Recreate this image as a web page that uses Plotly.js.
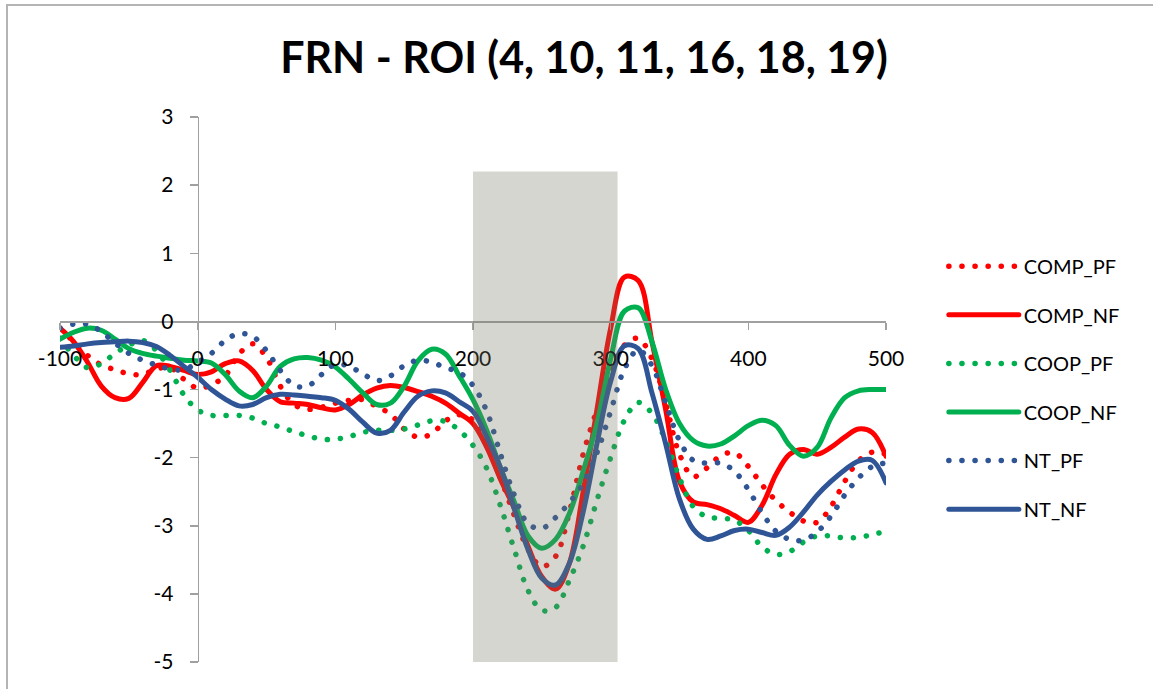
<!DOCTYPE html>
<html>
<head>
<meta charset="utf-8">
<script src="https://cdn.plot.ly/plotly-3.0.1.min.js"></script>
<style>
html,body{margin:0;padding:0;background:#fff;overflow:hidden;}
#wrap{position:relative;width:1153px;height:689px;}
#chart{width:1153px;height:689px;}
#frame{position:absolute;left:6px;top:4px;width:1160px;height:720px;border:2px solid #b4b4b4;box-sizing:border-box;pointer-events:none;}
.scatterlayer path.js-line, .legend path.js-line{stroke-linecap:round;}
</style>
</head>
<body>
<div id="wrap"><div id="chart"></div><div id="frame"></div></div>
<script>
// Time in ms
const time = [-100,-90,-80,-70,-60,-50,-40,-30,-20,-10,0,10,20,30,40,50,60,70,80,90,100,110,120,130,140,150,160,170,180,190,200,210,220,230,240,250,260,270,280,290,300,310,320,330,340,350,360,370,380,390,400,410,420,430,440,450,460,470,480,490,500];

const COMP_PF = [-0.1,-0.3,-0.5,-0.64,-0.71,-0.77,-0.78,-0.7,-0.68,-0.85,-0.98,-0.93,-0.8,-0.48,-0.33,-0.53,-0.95,-1.22,-1.29,-1.26,-1.2,-1.16,-1.15,-1.25,-1.36,-1.58,-1.7,-1.65,-1.46,-1.37,-1.45,-1.8,-2.3,-2.85,-3.35,-3.6,-3.45,-2.8,-1.95,-1.3,-0.75,-0.35,-0.25,-0.55,-1.2,-1.95,-2.28,-2.15,-1.97,-1.93,-2.13,-2.4,-2.63,-2.8,-2.93,-2.95,-2.72,-2.35,-2.05,-1.92,-1.95];

const COMP_NF = [-0.1,-0.3,-0.6,-0.95,-1.12,-1.13,-0.9,-0.65,-0.66,-0.72,-0.78,-0.74,-0.62,-0.58,-0.72,-1.0,-1.18,-1.2,-1.22,-1.27,-1.3,-1.22,-1.08,-0.98,-0.94,-0.97,-1.03,-1.1,-1.2,-1.35,-1.5,-1.85,-2.32,-2.75,-3.3,-3.75,-3.93,-3.55,-2.5,-1.3,-0.1,0.65,0.6,-0.3,-1.3,-2.35,-2.65,-2.69,-2.75,-2.85,-2.95,-2.7,-2.25,-1.95,-1.88,-1.95,-1.85,-1.7,-1.58,-1.63,-1.98];

const COOP_PF = [-0.25,-0.5,-0.68,-0.62,-0.47,-0.35,-0.28,-0.43,-0.72,-1.08,-1.3,-1.38,-1.38,-1.38,-1.42,-1.5,-1.55,-1.62,-1.68,-1.73,-1.73,-1.69,-1.63,-1.6,-1.6,-1.58,-1.52,-1.46,-1.47,-1.6,-1.82,-2.16,-2.71,-3.35,-3.95,-4.24,-4.2,-3.8,-3.3,-2.63,-2.0,-1.45,-1.19,-1.35,-1.75,-2.3,-2.72,-2.87,-2.89,-2.92,-3.07,-3.31,-3.42,-3.38,-3.24,-3.15,-3.15,-3.18,-3.17,-3.13,-3.08];

const COOP_NF = [-0.26,-0.16,-0.1,-0.13,-0.26,-0.4,-0.47,-0.51,-0.54,-0.57,-0.58,-0.61,-0.78,-1.02,-1.12,-0.95,-0.66,-0.55,-0.53,-0.57,-0.67,-0.85,-1.05,-1.22,-1.2,-0.95,-0.58,-0.41,-0.48,-0.8,-1.15,-1.6,-2.15,-2.65,-3.15,-3.33,-3.2,-2.82,-2.2,-1.5,-0.55,0.15,0.2,-0.3,-1.0,-1.5,-1.75,-1.83,-1.8,-1.68,-1.53,-1.45,-1.53,-1.82,-1.98,-1.85,-1.42,-1.12,-1.02,-1.0,-1.0];

const NT_PF = [-0.1,-0.04,-0.04,-0.15,-0.32,-0.47,-0.57,-0.64,-0.7,-0.71,-0.6,-0.47,-0.28,-0.18,-0.22,-0.43,-0.72,-0.94,-0.95,-0.78,-0.63,-0.66,-0.77,-0.87,-0.8,-0.65,-0.57,-0.6,-0.68,-0.75,-0.94,-1.32,-1.95,-2.55,-2.97,-3.04,-2.88,-2.66,-2.38,-1.93,-1.32,-0.7,-0.42,-0.65,-1.2,-1.75,-2.04,-2.08,-2.08,-2.2,-2.47,-2.81,-3.08,-3.2,-3.21,-3.09,-2.86,-2.55,-2.3,-2.13,-2.08];

const NT_NF = [-0.38,-0.36,-0.33,-0.31,-0.3,-0.29,-0.31,-0.37,-0.5,-0.66,-0.82,-1.0,-1.14,-1.24,-1.22,-1.12,-1.07,-1.08,-1.1,-1.12,-1.16,-1.29,-1.48,-1.64,-1.6,-1.33,-1.1,-1.02,-1.05,-1.18,-1.32,-1.7,-2.15,-2.75,-3.35,-3.77,-3.87,-3.55,-2.8,-1.8,-0.88,-0.36,-0.4,-1.05,-1.8,-2.61,-3.05,-3.2,-3.15,-3.07,-3.05,-3.1,-3.14,-3.02,-2.8,-2.55,-2.35,-2.18,-2.05,-2.04,-2.37];

const seriesNames = ["COMP_PF","COMP_NF","COOP_PF","COOP_NF","NT_PF","NT_NF"];
const seriesData = [COMP_PF, COMP_NF, COOP_PF, COOP_NF, NT_PF, NT_NF];
const seriesColors = ["#FF0000","#FF0000","#00B050","#00B050","#2F5597","#2F5597"];
const seriesDotted = [true,false,true,false,true,false];

// Axis ticks (labels with plain hyphen, as in the original)
const xTickVals = [-100,0,100,200,300,400,500];
const xTickText = ["-100","0","100","200","300","400","500"];
const yTickVals = [-5,-4,-3,-2,-1,0,1,2,3];
const yTickText = ["-5","-4","-3","-2","-1","0","1","2","3"];

const xRange = [-100, 500];
const yRange = [-5, 3];
const windowStart = 200, windowEnd = 305, windowTop = 2.2;
const titleText = "FRN - ROI (4, 10, 11, 16, 18, 19)";

const traces = seriesNames.map((n,i)=>({
  x: time, y: seriesData[i], name: n, type:'scatter', mode:'lines',
  legendgroup: n,
  line: {color: seriesColors[i], width: seriesDotted[i] ? 5.5 : 5, shape:'spline',
         dash: seriesDotted[i] ? '0.1px,13px' : 'solid'},
  hoverinfo:'skip'
}));

const font = "Lato, 'Open Sans', 'DejaVu Sans', sans-serif";
const layout = {
  width:1153, height:689,
  margin:{l:60, r:267, t:117, b:27},
  paper_bgcolor:'#fff', plot_bgcolor:'rgba(0,0,0,0)',
  font:{family:font, size:21, color:'#000'},
  title:{text:titleText, font:{family:font, size:43, color:'#000', weight:'bold'}, x:584/1153, xref:'container', xanchor:'center', y:1-58/689, yanchor:'middle'},
  showlegend:true,
  legend:{x:1.07, xanchor:'left', y:0.762, yanchor:'top', font:{family:font, size:20, color:'#000'},
          tracegroupgap:19.6, itemwidth:70, bgcolor:'rgba(0,0,0,0)'},
  xaxis:{range:xRange, anchor:'free', position:(0 - yRange[0])/(yRange[1]-yRange[0]),
         showline:true, linecolor:'#a0a0a0', linewidth:1.5, ticks:'outside', ticklen:7, tickcolor:'#a0a0a0', tickwidth:1.5,
         tickmode:'array', tickvals:xTickVals, ticktext:xTickText, showgrid:false, zeroline:false, ticklabelstandoff:11,
         tickfont:{family:font, size:21, color:'#000'}},
  yaxis:{range:yRange, anchor:'free', position:(0 - xRange[0])/(xRange[1]-xRange[0]),
         showline:true, linecolor:'#a0a0a0', linewidth:1.5, ticks:'outside', ticklen:8, tickcolor:'#a0a0a0', tickwidth:1.5,
         tickmode:'array', tickvals:yTickVals, ticktext:yTickText, showgrid:false, zeroline:false, ticklabelstandoff:12,
         tickfont:{family:font, size:21, color:'#000'}},
  shapes:[{type:'rect', xref:'x', yref:'y', x0:windowStart, x1:windowEnd, y0:yRange[0], y1:windowTop,
           fillcolor:'rgba(118,118,98,0.3)', line:{width:0}, layer:'above'}]
};

Plotly.newPlot('chart', traces, layout, {staticPlot:true, displayModeBar:false});
</script>
</body>
</html>
